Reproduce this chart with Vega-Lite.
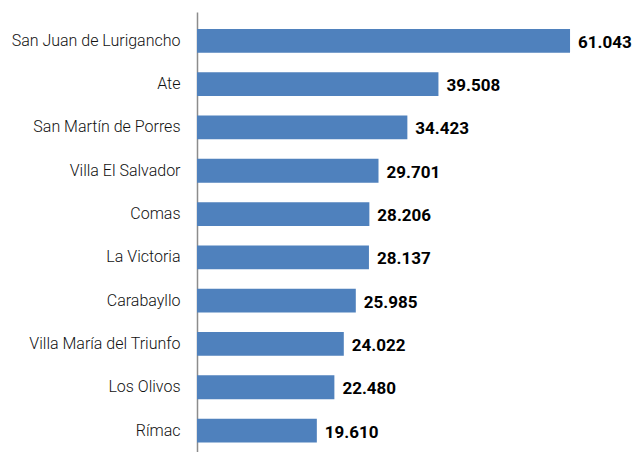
{
  "$schema": "https://vega.github.io/schema/vega-lite/v6.json",
  "autosize": "none",
  "width": 440,
  "height": 440,
  "padding": {"left": 197, "top": 12, "right": 0, "bottom": 0},
  "background": "white",
  "config": {"view": {"stroke": null}},
  "data": {
    "values": [
      {"distrito": "San Juan de Lurigancho", "valor": 61.043, "etiqueta": "61.043"},
      {"distrito": "Ate", "valor": 39.508, "etiqueta": "39.508"},
      {"distrito": "San Martín de Porres", "valor": 34.423, "etiqueta": "34.423"},
      {"distrito": "Villa El Salvador", "valor": 29.701, "etiqueta": "29.701"},
      {"distrito": "Comas", "valor": 28.206, "etiqueta": "28.206"},
      {"distrito": "La Victoria", "valor": 28.137, "etiqueta": "28.137"},
      {"distrito": "Carabayllo", "valor": 25.985, "etiqueta": "25.985"},
      {"distrito": "Villa María del Triunfo\u00a0", "valor": 24.022, "etiqueta": "24.022"},
      {"distrito": "Los Olivos", "valor": 22.48, "etiqueta": "22.480"},
      {"distrito": "Rímac", "valor": 19.61, "etiqueta": "19.610"}
    ]
  },
  "encoding": {
    "y": {
      "field": "distrito",
      "type": "nominal",
      "sort": null,
      "scale": {"paddingInner": 0.45, "paddingOuter": 0.306, "align": 0.64},
      "axis": {
        "title": null,
        "ticks": false,
        "domainColor": "#8c8c8c",
        "domainWidth": 1.5,
        "labelFont": "Roboto",
        "labelFontSize": 16,
        "labelFontWeight": 300,
        "labelColor": "#111111",
        "labelPadding": 17,
        "labelLimit": 250
      }
    },
    "x": {
      "field": "valor",
      "type": "quantitative",
      "scale": {"domain": [0, 72], "nice": false},
      "axis": null
    }
  },
  "layer": [
    {"mark": {"type": "bar", "color": "#4F81BD"}},
    {
      "mark": {"type": "text", "align": "left", "baseline": "middle", "dx": 8, "dy": 2, "font": "Roboto", "fontSize": 17, "fontWeight": "bold", "color": "#000000"},
      "encoding": {"text": {"field": "etiqueta"}}
    }
  ]
}
